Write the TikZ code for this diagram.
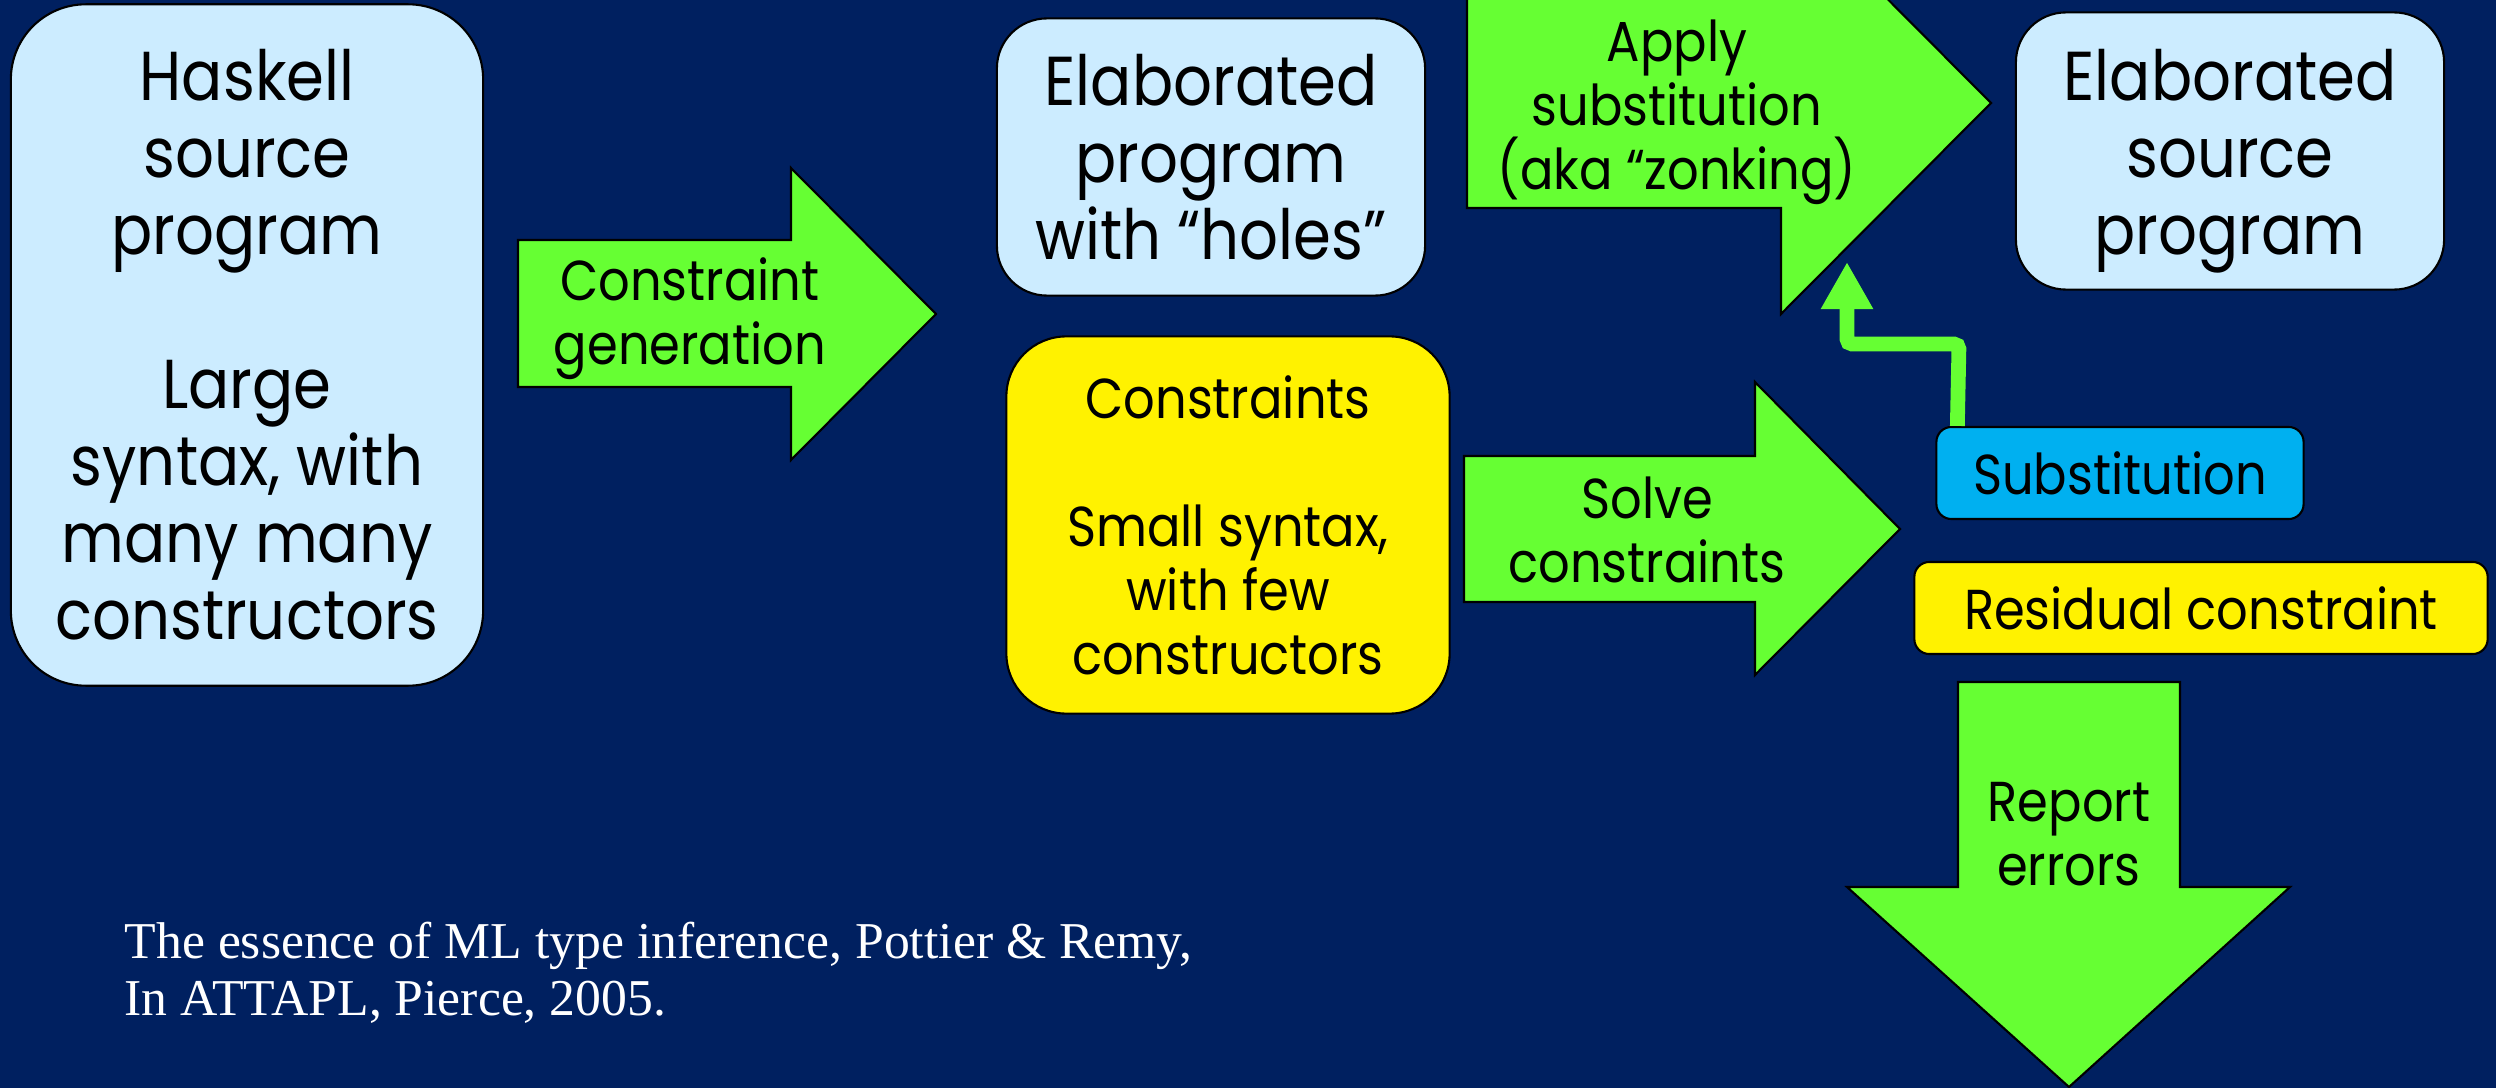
\documentclass[tikz,border=0pt]{standalone}
\usepackage{fontspec}
\setmainfont{Poppins}[FakeStretch=0.88]
\newfontfamily\notefont{Liberation Serif}
\usetikzlibrary{arrows.meta}
\definecolor{slidebg}{RGB}{0,32,96}
\definecolor{paleblue}{RGB}{204,236,255}
\definecolor{arrowgreen}{RGB}{102,255,51}
\definecolor{substblue}{RGB}{0,176,240}

\begin{document}
\begin{tikzpicture}[x=0.01cm,y=-0.01cm]
  \tikzstyle{bigtext}=[font=\fontsize{19.7}{21.9}\selectfont]
  \tikzstyle{midtext}=[font=\fontsize{16}{18.2}\selectfont]
  \tikzstyle{box}=[draw=black,line width=0.6pt,align=center,inner sep=0pt]
  \tikzstyle{label}=[midtext,align=center,inner sep=0pt]
  \tikzstyle{blockarrow}=[draw=black,line width=0.6pt,fill=arrowgreen]
  \useasboundingbox (0,0) rectangle (2496,1088);
  \clip (0,0) rectangle (2496,1088);
  \fill[slidebg] (0,0) rectangle (2496,1088);

  % boxes
  \node[box,bigtext,fill=paleblue,rounded corners=0.75cm,minimum width=4.72cm,minimum height=6.81cm] (haskell) at (247,345)
    {Haskell\\source\\program\\[21.9pt]Large\\syntax, with\\many many\\constructors};
  \node[box,bigtext,fill=paleblue,rounded corners=0.5cm,minimum width=4.28cm,minimum height=2.77cm] (holes) at (1211,157)
    {Elaborated\\program\\with “holes”};
  \node[box,bigtext,fill=paleblue,rounded corners=0.5cm,minimum width=4.28cm,minimum height=2.77cm] (result) at (2230,151)
    {\rule{0pt}{0.72cm}Elaborated\\source\\program};
  \node[box,midtext,fill=yellow,rounded corners=0.6cm,minimum width=4.43cm,minimum height=3.77cm] (constraints) at (1228,525)
    {Constraints\\[18.2pt]Small syntax,\\with few\\constructors};
  \node[box,midtext,fill=substblue,rounded corners=0.15cm,minimum width=3.67cm,minimum height=0.92cm] (subst) at (2120,473) {Substitution};
  \node[box,midtext,fill=yellow,rounded corners=0.15cm,minimum width=5.73cm,minimum height=0.92cm] (residual) at (2201,608) {Residual constraint};

  % block arrows
  \draw[blockarrow] (518,240) -- (791,240) -- (791,168) -- (936,314) -- (791,460) -- (791,387) -- (518,387) -- cycle;
  \node[label] (gen) at (690,319) {Constraint\\generation};
  \draw[blockarrow] (1467,-10) -- (1781,-10) -- (1781,-108) -- (1991,103) -- (1781,314) -- (1781,208) -- (1467,208) -- cycle;
  \node[label] (apply) at (1677,112) {Apply\\substitution\\(aka “zonking)};
  \draw[blockarrow] (1464,456) -- (1755,456) -- (1755,382) -- (1900,529) -- (1755,675) -- (1755,602) -- (1464,602) -- cycle;
  \node[label] (solve) at (1647,530) {Solve\\constraints};
  \draw[blockarrow] (1958,682) -- (2180,682) -- (2180,887) -- (2290,887) -- (2069,1087) -- (1847,887) -- (1958,887) -- cycle;
  \node[label] (report) at (2069,834) {Report\\errors};

  % substitution feeds back into the apply step
  \coordinate (rise) at ([xshift=0.22cm]subst.north west);
  \coordinate (bend) at (1959,344);
  \coordinate (applyfoot) at (1847,262);
  \draw[arrowgreen,line width=4.2pt,rounded corners=0.05cm,-{Triangle[width=0.49cm,length=0.47cm]}] (rise) -- (bend) -| (applyfoot);

  \node[anchor=base west,text=white,font=\notefont\fontsize{14.7}{16.2}\selectfont,align=left,inner sep=0pt] (cite) at (124,1015)
    {The essence of ML type inference, Pottier \& Remy,\\In ATTAPL, Pierce, 2005.};
\end{tikzpicture}
\end{document}
